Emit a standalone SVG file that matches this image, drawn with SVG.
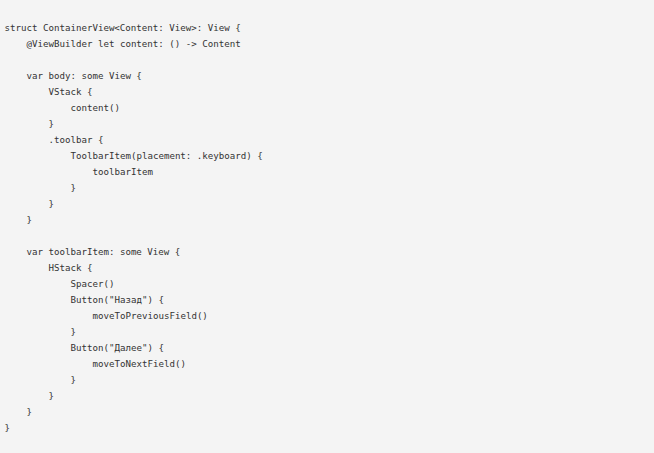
<svg xmlns="http://www.w3.org/2000/svg" width="654" height="453" viewBox="0 0 654 453">
<style>
text{font-family:"DejaVu Sans Mono","Liberation Mono",monospace;font-size:9.15px;fill:#333333;}
</style>
<rect x="0" y="0" width="654" height="453" fill="#f4f4f4"/>
<g id="code">
<text x="4.5" y="31">struct ContainerView&lt;Content: View&gt;: View {</text>
<text x="26.5" y="47">@ViewBuilder let content: () -&gt; Content</text>
<text x="26.5" y="79">var body: some View {</text>
<text x="48.5" y="95">VStack {</text>
<text x="70.5" y="111">content()</text>
<text x="48.5" y="127">}</text>
<text x="48.5" y="143">.toolbar {</text>
<text x="70.5" y="159">ToolbarItem(placement: .keyboard) {</text>
<text x="92.5" y="175">toolbarItem</text>
<text x="70.5" y="191">}</text>
<text x="48.5" y="207">}</text>
<text x="26.5" y="223">}</text>
<text x="26.5" y="255">var toolbarItem: some View {</text>
<text x="48.5" y="271">HStack {</text>
<text x="70.5" y="287">Spacer()</text>
<text x="70.5" y="303">Button("Назад") {</text>
<text x="92.5" y="319">moveToPreviousField()</text>
<text x="70.5" y="335">}</text>
<text x="70.5" y="351">Button("Далее") {</text>
<text x="92.5" y="367">moveToNextField()</text>
<text x="70.5" y="383">}</text>
<text x="48.5" y="399">}</text>
<text x="26.5" y="415">}</text>
<text x="4.5" y="431">}</text>
</g>
</svg>
